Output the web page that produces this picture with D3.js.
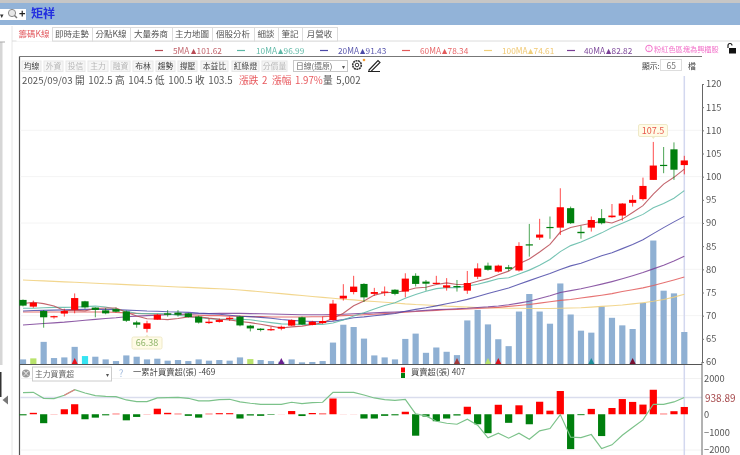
<!DOCTYPE html>
<html><head><meta charset="utf-8">
<script src="https://cdn.jsdelivr.net/npm/d3@7/dist/d3.min.js"></script>
<style>
html,body{margin:0;padding:0;background:#fff;overflow:hidden}
svg{display:block;filter:blur(0.45px)}
text{font-family:"Noto Sans CJK TC","Liberation Sans",sans-serif}
</style></head><body><div id="c"></div>
<script>
const opens=[73.4,71.95,71,69.65,70.45,71.25,73.1,71.75,71.15,71.4,70.9,68.55,67.15,69.15,70.5,70.65,70.5,69.8,68.4,68.65,69.3,69.8,67.85,67.2,66.98,67.2,67.85,69.65,68,68.4,69.05,73.7,75.1,76.85,74.7,75.05,75.6,75.2,78.6,77.35,77,76.05,76.4,75.4,78.4,80.8,79.5,80.45,79.75,85.4,86.85,89.15,89,93.2,88.1,89,91.05,91.25,91.6,94.35,95.15,99.3,102.55,105.9,102.5];
const highs=[73.5,73.25,71.2,70,71.5,74.8,73.2,71.8,71.65,71.75,71.1,68.9,68.9,70.4,71.2,71.2,70.6,70,69.4,69.4,69.8,70,68,67.3,67.6,67.85,69.2,69.8,68.9,69.8,73.4,76.8,78.6,77,76,76.3,75.7,79.15,79.15,77.7,78.6,78.1,77.7,79.65,81.3,81.45,81,80.95,85.85,89.8,90.9,91.4,97.5,93.55,89.4,91.4,93,94.1,94.3,96,99.8,107.5,106.4,107.4,104.5];
const lows=[72,71.7,67.4,69.35,69.8,70.5,71.5,69.65,70.3,70.7,68.65,67.4,66.38,69.1,69.8,69.8,69.6,68.3,68.2,68.5,68.85,67.7,66.6,66.6,66.7,66.85,67.8,68,67.9,68.2,68.9,73.25,74.6,72.95,74.25,74.25,74.4,73.95,76.3,75.4,76.85,75.4,75.2,74.7,77.9,79.7,79.3,79.65,79.5,82.75,86.35,86.6,87.4,89.8,86.6,88.15,89.7,91.1,90.5,93.55,94.85,99.3,100.75,99.3,100.5];
const closes=[72.17,72.8,69.65,69.9,71,73.8,71.8,71.25,70.5,70.85,68.9,68.05,68.35,70.2,70.2,70.2,69.7,68.5,68.7,69.05,69.55,67.9,67.25,66.9,67.1,67.6,69.05,68.1,68.7,68.85,72.6,74.3,76.27,73.95,75.1,75.2,74.7,78,76.85,76.9,77.1,76.55,76.27,77.05,80.2,79.9,80.8,80.1,85.05,85.3,87.5,89,93.4,89.95,87.8,90.65,89.95,91.6,94.2,95,98,102.4,102.4,101.5,103.5];
const volumes=[720,880,3460,930,1030,2680,1240,1140,720,460,1340,1140,720,830,520,620,460,720,520,620,520,1030,770,620,460,360,720,260,310,460,3350,6140,5780,3970,1340,1030,720,3920,4750,1750,2580,1910,1390,6810,8460,6190,3870,2790,8200,10940,8200,6300,12590,7740,5210,4900,8980,7220,6040,5470,9550,19300,11460,11040,5002];
const ma5=[72.6,72.9,72.6,72.1,71.1,71.15,71.03,71.55,71.67,71.64,70.76,69.91,69.33,69.27,69.14,69.4,69.73,69.76,69.46,69.23,69.1,68.74,68.49,68.13,67.74,67.35,67.58,67.75,68.11,68.46,69.46,70.51,72.14,73.19,74.44,74.96,75.04,75.39,75.97,76.13,76.71,77.08,76.73,76.77,77.43,77.99,78.84,79.61,81.21,82.23,83.75,85.39,88.05,89.03,89.53,89.96,90.35,89.99,90.84,92.28,93.75,96.24,98.4,99.86,101.62];
const ma10=[71.6,71.6,71.7,71.8,71.8,71.85,71.96,72.07,71.88,71.37,70.95,70.47,70.44,70.47,70.39,70.08,69.82,69.55,69.37,69.19,69.25,69.24,69.13,68.8,68.49,68.23,68.16,68.12,68.12,68.1,68.4,69.05,69.95,70.65,71.45,72.21,72.78,73.77,74.58,75.29,75.84,76.06,76.06,76.37,76.78,77.35,77.96,78.17,78.99,79.83,80.87,82.12,83.83,85.12,85.88,86.86,87.87,89.02,89.94,90.9,91.86,93.3,94.2,95.35,96.99];
const ma20=[71,71.1,71.15,71.2,71.25,71.3,71.35,71.35,71.35,71.3,71.2,71.1,71,70.95,70.85,70.8,70.7,70.55,70.45,70.3,70.1,69.86,69.79,69.64,69.44,69.16,68.99,68.84,68.75,68.65,68.83,69.15,69.54,69.73,69.97,70.22,70.47,70.95,71.35,71.7,72.12,72.56,73,73.51,74.12,74.78,75.37,75.97,76.79,77.56,78.36,79.09,79.95,80.75,81.33,82.1,82.92,83.6,84.47,85.37,86.37,87.71,89,90.24,91.43];
const ma40=[68,68.15,68.3,68.45,68.6,68.8,69,69.2,69.4,69.55,69.75,69.9,70,70.1,70.2,70.3,70.35,70.4,70.45,70.5,70.5,70.5,70.45,70.4,70.35,70.3,70.25,70.2,70.2,70.2,70.25,70.3,70.4,70.5,70.6,70.7,70.8,70.9,71,71.15,71.3,71.4,71.5,71.6,71.75,71.9,72.1,72.35,72.7,73.1,73.7,74.3,75,75.4,75.8,76.3,76.8,77.35,77.95,78.6,79.3,80.1,80.9,81.8,82.82];
const ma60=[70.8,70.8,70.8,70.8,70.8,70.8,70.8,70.8,70.8,70.7,70.6,70.5,70.4,70.3,70.3,70.2,70.2,70.1,70,70,69.9,69.9,69.8,69.8,69.7,69.7,69.7,69.7,69.75,69.8,69.9,70,70.1,70.2,70.3,70.45,70.6,70.75,70.9,71,71.15,71.3,71.35,71.45,71.55,71.65,71.8,72,72.2,72.4,72.7,73,73.3,73.5,73.8,74.1,74.4,74.75,75.2,75.6,76,76.5,77.1,77.7,78.34];
const ma100=[77.7,77.6,77.5,77.4,77.3,77.2,77.1,77,76.9,76.8,76.7,76.6,76.5,76.4,76.3,76.2,76.1,76,75.9,75.8,75.7,75.55,75.35,75.15,74.95,74.75,74.55,74.35,74.15,73.95,73.75,73.55,73.4,73.2,73.05,72.9,72.75,72.55,72.4,72.3,72.2,72.05,71.95,71.85,71.75,71.7,71.65,71.6,71.6,71.55,71.55,71.55,71.6,71.65,71.7,71.85,72,72.15,72.3,72.55,72.8,73.1,73.5,74,74.61];
const netBuy=[-60,80,-500,10,280,560,-280,-190,-60,30,-340,-150,10,310,80,30,-90,-190,30,60,60,-240,-70,-90,-30,5,180,-100,70,40,880,5,5,-240,-240,-90,-60,140,-1200,-130,-390,-240,-70,420,-560,-1060,530,-480,500,-560,700,200,1300,-1950,-50,300,-1220,350,850,690,540,1370,30,170,407];
const cumBuy=[1209,1228,893,874,1060,1376,1190,1042,1004,986,800,707,707,911,930,949,893,744,744,818,837,688,614,558,558,558,670,595,651,670,1228,1228,1228,1079,911,818,781,837,19,-93,-391,-502,-558,-279,-614,-1321,-1060,-1339,-1060,-1395,-930,-800,-19,-1283,-1302,-1135,-1916,-1711,-1172,-744,-316,558,558,688,938.89];
const priceTicks=[120,115,110,105,100,95,90,85,80,75,70,65,60];
const flowTicks=[2000,0,-1000,-2000];
const gridPrice=[110,100,90,80,70];
const gridFlow=[2000,-2000];
const tabNames=["籌碼K線","即時走勢","分點K線","大量券商","主力地圖","個股分析","細談","筆記","月營收"];
const toolNames=["均線","外資","投信","主力","融資","布林","趨勢","撐壓","本益比","紅綠燈","分價量"];
const toolOff=[0,1,1,1,1,0,0,0,0,0,1];
const maNames=["5MA","10MA","20MA","60MA","100MA","40MA"];
const maLast=["101.62","96.99","91.43","78.34","74.61","82.82"];
const barTint=[[1,"#b9e36c"],[6,"#36e4f2"],[22,"#b9e36c"]];
const markIdx=[5,25,42,45,46,55,59];
const markCol=["#e8131c","#6a1f8f","#a33a3a","#b9e36c","#d8121c","#1f8f9a","#7a1030"];

const W=740,H=455;
const RED="#ff0000",GRN="#007f0e";
const svg=d3.select("#c").append("svg").attr("width",W).attr("height",H);
const T=(x,y,s,o={})=>svg.append("text").attr("x",x).attr("y",y).text(s)
  .attr("font-size",o.fs||10).attr("fill",o.c||"#555").attr("text-anchor",o.a||"start")
  .attr("font-weight",o.w||"normal").attr("font-family",o.f||null).attr("word-spacing",o.ws||null);
const R=(x,y,w,h,f,s)=>svg.append("rect").attr("x",x).attr("y",y).attr("width",w).attr("height",h).attr("fill",f).attr("stroke",s||"none");
const L=(a,b,c,d,s,w=1)=>svg.append("line").attr("x1",a).attr("y1",b).attr("x2",c).attr("y2",d).attr("stroke",s).attr("stroke-width",w);

// window chrome
R(0,0,W,3,"#c6c6c6"); R(0,3,W,22,"#92b3d8");
R(0,9,26,11,"#fff");
T(0,18,"▾",{fs:7,c:"#333"});
svg.append("circle").attr("cx",12).attr("cy",13).attr("r",3.6).attr("fill","#e8e8e8").attr("stroke","#8a8a8a");
L(14.5,15.5,17,18,"#777",1.4);
T(19,18,"+",{fs:11,c:"#222",w:"bold"});
T(31,18,"矩祥",{fs:12,c:"#2430e0",w:"bold"});
R(0,42,2.5,323,"#d6d6d6"); L(0,42,5,42,"#aaa"); L(12,26,12,455,"#e6e6e6");
R(0,372,1.5,25,"#333");
svg.append("path").attr("d","M2.5 400L8 395.5V404.5Z").attr("fill","#777");

// tabs
const tabEdge=[16,52,92,130,172,212,254,278,302,337];
L(12,41,W,41,"#dcdcdc");
tabNames.forEach((n,i)=>{
  R(tabEdge[i]+.5,27.5,tabEdge[i+1]-tabEdge[i],i?13.5:14,"#fff",i?"#dcdcdc":"none");
  T((tabEdge[i]+tabEdge[i+1])/2,37.3,n,{fs:8.5,c:i?"#555":"#e2595f",a:"middle"});
});

// MA legend
const maCol=["#b94a54","#5db8a6","#4c4aa8","#e25a5a","#f0cf7a","#7a3f96"];
const maTxt=["#c2636b","#63bba9","#5a58ae","#e8686a","#f0c871","#7f4a9c"];
const dashX=[155,237,320,402,484,567];
const txtX=[173,256,338,420,502,584];
const numGap=[18,22,22,22,26,22];
maNames.forEach((n,i)=>{
  L(dashX[i],50.5,dashX[i]+8,50.5,maCol[i],1.2);
  T(txtX[i],53.7,n,{fs:8.3,c:maTxt[i]});
  const nx=txtX[i]+numGap[i];
  svg.append("path").attr("d",`M${nx} 54L${nx+2.6} 48.8L${nx+5.2} 54Z`).attr("fill",maCol[i]);
  T(nx+5.6,53.7,maLast[i],{fs:8.3,c:maTxt[i]});
});
svg.append("circle").attr("cx",649).attr("cy",48.5).attr("r",3.3).attr("fill","none").attr("stroke","#f26fc9");
T(649,51,"!",{fs:6,c:"#f26fc9",a:"middle"});
T(654,51.5,"粉紅色區塊為興櫃股",{fs:7.2,c:"#f26fc9"});
R(729,48,7,5.5,"#111");
svg.append("path").attr("d","M728 48V45.5a2 2 0 0 1 4 0").attr("fill","none").attr("stroke","#111").attr("stroke-width",1.1);

// frame
L(19.5,56.5,702,56.5,"#777",1.2); L(19.5,56.5,19.5,455,"#555",1.2);
const toolEdge=[[22,41],[44,63],[66,85],[88,108],[111,130],[133,153],[156,175],[178,197],[201,228],[232,259],[262,287]];
toolNames.forEach((n,i)=>{
  R(toolEdge[i][0],61,toolEdge[i][1]-toolEdge[i][0],10.5,"#f6f6f6","#e8e8e8");
  T((toolEdge[i][0]+toolEdge[i][1])/2,69.3,n,{fs:7.8,c:toolOff[i]?"#b8b8b8":"#444",a:"middle"});
});
R(293.5,60.5,54,11,"#fff","#c8c8c8");
T(296,69.3,"日線(還原)",{fs:7.8,c:"#666"}); T(342,69,"▾",{fs:6,c:"#555"});
// gear and pen
svg.append("circle").attr("cx",357).attr("cy",65).attr("r",4.3).attr("fill","none").attr("stroke","#333").attr("stroke-width",1.6).attr("stroke-dasharray","2 .6");
svg.append("circle").attr("cx",357).attr("cy",65).attr("r",1.8).attr("fill","none").attr("stroke","#333");
svg.append("circle").attr("cx",364).attr("cy",60).attr("r",1.3).attr("fill","#f39c34");
svg.append("path").attr("d","M369 70L378 60.5L380 62.5L371 71.5H369ZM368 71.5H380").attr("fill","none").attr("stroke","#222").attr("stroke-width",1.1);
T(642,68.8,"顯示:",{fs:7.8,c:"#444"});
R(660.5,59.5,21,11,"#fff","#ddd"); T(676,68.5,"65",{fs:8.5,c:"#777",a:"end"});
T(692,68.8,"檔",{fs:7.8,c:"#444",a:"middle"});

// info line
const infoX=[22,75,115,155,195,239,272,323];
const infoS=["2025/09/03","開 102.5","高 104.5","低 100.5","收 103.5","漲跌 2","漲幅 1.97%","量 5,002"];
infoS.forEach((s,i)=>T(infoX[i],83.5,s,{fs:9.7,ws:1.5,c:(i==5||i==6)?"#e8595e":"#555",f:'"Liberation Sans","Noto Sans CJK TC",sans-serif'}));

// scales
const x=d3.scaleLinear().domain([0,64]).range([23,684.3]);
const y=d3.scaleLinear().domain([60,120]).range([362,84]);
const yV=d3.scaleLinear().domain([0,5002]).range([364,332]);
const yB=d3.scaleLinear().domain([-2000,2000]).range([450,378.5]);
const idx=d3.range(closes.length);

// grid
svg.append("g").selectAll("line").data(gridPrice).join("line").attr("x1",20).attr("x2",702).attr("y1",d=>y(d)).attr("y2",d=>y(d)).attr("stroke","#f4f4f4");
svg.append("g").selectAll("line").data(gridFlow).join("line").attr("x1",20).attr("x2",702).attr("y1",d=>yB(d)).attr("y2",d=>yB(d)).attr("stroke","#f2f2f2");
L(x(64),76,x(64),455,"#d3d8ef",1.5);
L(20,yB(938.89),702,yB(938.89),"#dadded",1.5);

// volume
const tint=new Map(barTint);
svg.append("g").selectAll("rect").data(idx).join("rect")
  .attr("x",i=>x(i)-3.1).attr("width",6.2).attr("y",i=>yV(volumes[i])).attr("height",i=>364-yV(volumes[i]))
  .attr("fill",i=>tint.get(i)||"#8fb0d3");
svg.append("g").selectAll("path").data(markIdx).join("path")
  .attr("d",i=>`M${x(i)-3} 364L${x(i)} 358L${x(i)+3} 364Z`).attr("fill",(d,j)=>markCol[j]);

// moving averages
const line=d3.line().x((d,i)=>x(i)).y(d=>y(d));
[ma100,ma60,ma40,ma20,ma10,ma5].forEach((s,k)=>{
  const ci=[4,3,5,2,1,0][k];
  svg.append("path").attr("d",line(s)).attr("fill","none").attr("stroke",maCol[ci]).attr("stroke-width",1.1).attr("opacity",.85);
});

// candles
const col=i=>closes[i]>=opens[i]?RED:GRN;
svg.append("g").selectAll("line").data(idx).join("line")
  .attr("x1",i=>x(i)).attr("x2",i=>x(i)).attr("y1",i=>y(highs[i])).attr("y2",i=>y(lows[i]))
  .attr("stroke",i=>col(i)).attr("stroke-opacity",.7).attr("stroke-width",1);
svg.append("g").selectAll("rect").data(idx).join("rect")
  .attr("x",i=>x(i)-3.6).attr("width",7.2)
  .attr("y",i=>y(Math.max(opens[i],closes[i])))
  .attr("height",i=>Math.max(1.2,Math.abs(y(opens[i])-y(closes[i]))))
  .attr("fill",i=>col(i));

// callouts
const maxI=d3.maxIndex(highs),minI=d3.minIndex(lows);
const box=(cx,top,s,c,w)=>{R(cx-w/2,top,w,12,"#fffbe6","#efe9c8").attr("rx",1.5);T(cx,top+9.3,s,{fs:9,c,a:"middle"});};
box(653,124.5,String(highs[maxI]),"#e8574c",29);
svg.append("path").attr("d",`M${x(maxI)-2} 136.5L${x(maxI)} 139L${x(maxI)+2} 136.5Z`).attr("fill","#efe9c8");
box(147,337,String(lows[minI]),"#8fb56a",30);
svg.append("path").attr("d",`M${x(minI)-2} 337L${x(minI)} 334.5L${x(minI)+2} 337Z`).attr("fill","#efe9c8");

// axes
const yAxis=d3.axisRight(y).tickValues(priceTicks).tickSize(2).tickPadding(2);
const gA=svg.append("g").attr("transform","translate(702,0)").call(yAxis);
const fAxis=d3.axisRight(yB).tickValues(flowTicks).tickSize(0).tickPadding(2).tickFormat(d3.format("d"));
const gB=svg.append("g").attr("transform","translate(702,0)").call(fAxis);
gB.select(".domain").remove();
[gA,gB].forEach(g=>{g.selectAll("text").attr("font-size",9.3).attr("fill","#555").attr("font-family",'"Liberation Sans",sans-serif');g.selectAll("line").attr("stroke","#777");});
gA.select(".domain").attr("stroke","#666");
L(702,362,702,455,"#666");
T(705,402,"938.89",{fs:10,c:"#a5474a",f:'"Liberation Sans",sans-serif'});
L(19.5,364.5,702,364.5,"#555",1.2);

// lower panel: controls
svg.append("circle").attr("cx",26).attr("cy",373.5).attr("r",4).attr("fill","#999");
T(26,376,"×",{fs:8,c:"#fff",a:"middle"});
R(32.5,367,79,14,"#fff","#ccc"); T(35,377,"主力買賣超",{fs:7.8,c:"#666"}); T(106,377,"▾",{fs:6,c:"#555"});
T(121,377,"?",{fs:10,c:"#a9c0e0",a:"middle"});
T(133,374.5,"一累計買賣超(張) -469",{fs:8.3,c:"#444"});
R(401,367.5,4,5,RED); R(401,373,4,5,GRN);
T(411,374.5,"買賣超(張) 407",{fs:8.3,c:"#444"});

// lower panel: bars and line
svg.append("g").selectAll("rect").data(idx).join("rect")
  .attr("x",i=>x(i)-3.6).attr("width",7.2)
  .attr("y",i=>netBuy[i]>=0?yB(netBuy[i]):yB(0))
  .attr("height",i=>Math.abs(yB(netBuy[i])-yB(0)))
  .attr("fill",i=>netBuy[i]>=0?RED:GRN);
const lb=d3.line().x((d,i)=>x(i)).y(d=>yB(d));
svg.append("path").attr("d",lb(cumBuy)).attr("fill","none").attr("stroke","#7cc28a").attr("stroke-width",1.2);
svg.append("path").attr("d",lb.x((d,i)=>x(i+4))(cumBuy.slice(4,6))).attr("fill","none").attr("stroke","#e57f80").attr("stroke-width",1.2);
</script></body></html>
